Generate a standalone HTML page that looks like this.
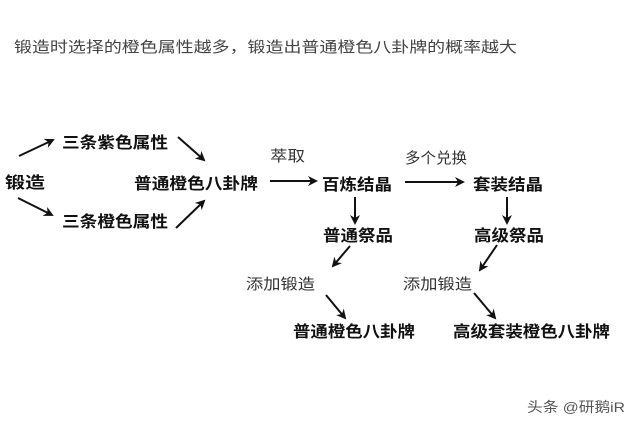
<!DOCTYPE html>
<html><head><meta charset="utf-8"><style>
html,body{margin:0;padding:0;background:#fff;width:640px;height:426px;overflow:hidden}
svg{display:block}
text{font-family:"Liberation Sans","Noto Sans CJK SC",sans-serif}
.b{font-weight:bold;font-size:16px;fill:#111}
.n{font-size:15px;fill:#333}
</style></head><body>
<svg width="640" height="426" viewBox="0 0 640 426">
<defs><marker id="a" markerWidth="10" markerHeight="10" refX="8" refY="5" orient="auto" markerUnits="userSpaceOnUse"><path d="M0,0 L10,5 L0,10 L3,5 z" fill="#111"/></marker></defs>
<text x="14" y="52" class="n" textLength="503" lengthAdjust="spacingAndGlyphs" style="fill:#444">锻造时选择的橙色属性越多，锻造出普通橙色八卦牌的概率越大</text>
<g stroke="#111" stroke-width="2" fill="none" marker-end="url(#a)">
<line x1="19" y1="156" x2="53" y2="140"/>
<line x1="18" y1="198" x2="52" y2="215"/>
<line x1="178" y1="137" x2="204" y2="160"/>
<line x1="176" y1="228" x2="204" y2="201"/>
<line x1="270" y1="181" x2="316" y2="181"/>
<line x1="405" y1="182" x2="463" y2="182"/>
<line x1="355" y1="197" x2="355" y2="223"/>
<line x1="507" y1="197" x2="507" y2="223"/>
<line x1="350" y1="246" x2="333" y2="266"/>
<line x1="497" y1="245" x2="480" y2="270"/>
<line x1="326" y1="295" x2="345" y2="318"/>
<line x1="474" y1="293" x2="495" y2="318"/>
</g>
<text x="5" y="188" class="b" textLength="40" lengthAdjust="spacingAndGlyphs">锻造</text>
<text x="62" y="148" class="b" textLength="106" lengthAdjust="spacingAndGlyphs">三条紫色属性</text>
<text x="62" y="227" class="b" textLength="106" lengthAdjust="spacingAndGlyphs">三条橙色属性</text>
<text x="134" y="189" class="b" textLength="124" lengthAdjust="spacingAndGlyphs">普通橙色八卦牌</text>
<text x="270" y="161" class="n" textLength="35" lengthAdjust="spacingAndGlyphs">萃取</text>
<text x="322" y="190" class="b" textLength="70" lengthAdjust="spacingAndGlyphs">百炼结晶</text>
<text x="405" y="163" class="n" textLength="62" lengthAdjust="spacingAndGlyphs">多个兑换</text>
<text x="473" y="190" class="b" textLength="70" lengthAdjust="spacingAndGlyphs">套装结晶</text>
<text x="323" y="241" class="b" textLength="70" lengthAdjust="spacingAndGlyphs">普通祭品</text>
<text x="474" y="241" class="b" textLength="70" lengthAdjust="spacingAndGlyphs">高级祭品</text>
<text x="246" y="289" class="n" textLength="69" lengthAdjust="spacingAndGlyphs">添加锻造</text>
<text x="403" y="289" class="n" textLength="69" lengthAdjust="spacingAndGlyphs">添加锻造</text>
<text x="293" y="337" class="b" textLength="122" lengthAdjust="spacingAndGlyphs">普通橙色八卦牌</text>
<text x="453" y="337" class="b" textLength="157" lengthAdjust="spacingAndGlyphs">高级套装橙色八卦牌</text>
<text x="527" y="412" class="n" style="font-size:14px;fill:#555" textLength="98" lengthAdjust="spacingAndGlyphs">头条 @研鹅iR</text>
</svg>
</body></html>
